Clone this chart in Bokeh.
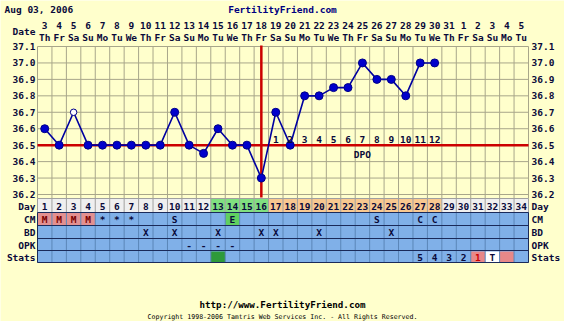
from bokeh.plotting import figure
from bokeh.models import Range1d
from bokeh.core.properties import value
from bokeh.embed import file_html
from bokeh.resources import INLINE

# ---------------- data ----------------
chart_date = "Aug 03, 2006"
site_title = "FertilityFriend.com"
footer_url = "http://www.FertilityFriend.com"
footer_copy = "Copyright 1998-2006 Tamtris Web Services Inc. - All Rights Reserved."

days = list(range(1, 35))
date_nums = [3, 4, 5, 6, 7, 8, 9, 10, 11, 12, 13, 14, 15, 16, 17, 18, 19, 20, 21, 22,
             23, 24, 25, 26, 27, 28, 29, 30, 31, 1, 2, 3, 4, 5]
weekdays = ["Th", "Fr", "Sa", "Su", "Mo", "Tu", "We", "Th", "Fr", "Sa", "Su", "Mo",
            "Tu", "We", "Th", "Fr", "Sa", "Su", "Mo", "Tu", "We", "Th", "Fr", "Sa",
            "Su", "Mo", "Tu", "We", "Th", "Fr", "Sa", "Su", "Mo", "Tu"]

temp_days = list(range(1, 29))
temps = [36.6, 36.5, 36.7, 36.5, 36.5, 36.5, 36.5, 36.5, 36.5, 36.7, 36.5, 36.45,
         36.6, 36.5, 36.5, 36.3, 36.7, 36.5, 36.8, 36.8, 36.85, 36.85, 37.0, 36.9,
         36.9, 36.8, 37.0, 37.0]
open_days = [3]
coverline = 36.5
ovulation_day = 16
dpo_days = list(range(17, 29))
dpo_labels = [str(i) for i in range(1, 13)]
dpo_label_day = 23
temp_ticks = [36.2, 36.3, 36.4, 36.5, 36.6, 36.7, 36.8, 36.9, 37.0, 37.1]

fertile_days = [13, 14, 15, 16]
luteal_days = list(range(17, 29))

cm_days = [1, 2, 3, 4, 5, 6, 7, 10, 14, 24, 27, 28]
cm_marks = ["M", "M", "M", "M", "*", "*", "*", "S", "E", "S", "C", "C"]
bd_days = [8, 10, 13, 16, 17, 20, 25]
opk_days = [11, 12, 13, 14]
stats_days = [27, 28, 29, 30, 31, 32]
stats_marks = ["5", "4", "3", "2", "1", "T"]
stats_fill_days = [13, 31, 32, 33]
stats_fill_kind = ["green", "pink", "white", "pink"]

row_names = ["Day", "CM", "BD", "OPK", "Stats"]

# ---------------- layout / style ----------------
W, H = 564, 321
X0, X1 = 37.0, 528.0
COLW = (X1 - X0) / len(days)
PT, PB = 46.0, 194.0            # pixel rows of 37.1 and 36.2
TMAX, TMIN = temp_ticks[-1], temp_ticks[0]
PPD = (PB - PT) / (TMAX - TMIN)
ROW_EDGES = [198, 212, 225, 238, 250, 262]

BG = "#FFFFCC"
GRID = "#A8A68A"
RED = "#CC0000"
BLUE = "#0000CC"
NAVY = "#0A0A3A"
FONT = value("DejaVu Sans Mono")

p = figure(width=W, height=H, output_backend="svg", toolbar_location=None,
           x_axis_type=None, y_axis_type=None, min_border=0,
           x_range=Range1d(0.5 - X0 / COLW, 0.5 + (W - X0) / COLW),
           y_range=Range1d(TMIN - (H - PB) / PPD, TMAX + PT / PPD))
p.outline_line_color = None
p.background_fill_color = BG
p.border_fill_color = BG
p.extra_y_ranges = {"px": Range1d(H, 0)}
p.extra_x_ranges = {"pxx": Range1d(0, W)}

xl = days[0] - 0.5
xr = days[-1] + 0.5
edges = [d - 0.5 for d in days] + [xr]

# ---------- temperature grid ----------
p.segment(x0=edges, x1=edges, y0=[PT] * len(edges), y1=[ROW_EDGES[0]] * len(edges),
          y_range_name="px", line_color=GRID, line_width=1)
p.segment(x0=[xl] * len(temp_ticks), x1=[xr] * len(temp_ticks), y0=temp_ticks,
          y1=temp_ticks, line_color=GRID, line_width=1)

# coverline & ovulation line
p.segment(x0=[xl], x1=[xr], y0=[coverline], y1=[coverline], line_color=RED, line_width=2.5)
p.segment(x0=[ovulation_day], x1=[ovulation_day], y0=[PT - 1], y1=[PB + 3],
          y_range_name="px", line_color=RED, line_width=2.5)

# temperature line & points
p.line(temp_days, temps, line_color="#0000A0", line_width=1.6)
cx = [d for d in temp_days if d not in open_days]
cy = [t for d, t in zip(temp_days, temps) if d not in open_days]
ox = [d for d in temp_days if d in open_days]
oy = [t for d, t in zip(temp_days, temps) if d in open_days]
p.scatter(cx, cy, size=8, fill_color=BLUE, line_color="#000088", line_width=1)
p.scatter(ox, oy, size=6.5, fill_color="white", line_color="#000088", line_width=1)

# DPO labels
p.text(x=dpo_days, y=[coverline] * len(dpo_days), text=dpo_labels, y_offset=-2,
       text_align="center", text_baseline="bottom", text_font=FONT,
       text_font_style="bold", text_font_size="9.5px", text_color=NAVY)
p.text(x=[dpo_label_day], y=[coverline], text=["DPO"], y_offset=4,
       text_align="center", text_baseline="top", text_font=FONT,
       text_font_style="bold", text_font_size="9.5px", text_color=NAVY)

# temperature tick labels (left & right)
tick_txt = [f"{t:.1f}" for t in temp_ticks]
p.text(x=[X0 - 2] * len(temp_ticks), y=temp_ticks, text=tick_txt, x_range_name="pxx",
       text_align="right", text_baseline="middle", text_font=FONT,
       text_font_style="bold", text_font_size="9.5px", text_color=NAVY)
p.text(x=[X1 + 3] * len(temp_ticks), y=temp_ticks, text=tick_txt, x_range_name="pxx",
       text_align="left", text_baseline="middle", text_font=FONT,
       text_font_style="bold", text_font_size="9.5px", text_color=NAVY)

# ---------- header ----------
p.text(x=[4], y=[9], text=[chart_date], x_range_name="pxx", y_range_name="px",
       text_align="left", text_baseline="middle", text_font=FONT,
       text_font_style="bold", text_font_size="9.5px", text_color=NAVY)
p.text(x=[282], y=[9], text=[site_title], x_range_name="pxx",
       y_range_name="px", text_align="center", text_baseline="middle", text_font=FONT,
       text_font_style="bold", text_font_size="9.5px", text_color="#000080")
p.text(x=[X0 - 2], y=[31], text=["Date"], x_range_name="pxx", y_range_name="px",
       text_align="right", text_baseline="middle", text_font=FONT,
       text_font_style="bold", text_font_size="9.5px", text_color=NAVY)
p.text(x=days, y=[25] * len(days), text=[str(d) for d in date_nums], y_range_name="px",
       text_align="center", text_baseline="middle", text_font=FONT,
       text_font_style="bold", text_font_size="9.5px", text_color=NAVY)
p.text(x=days, y=[37] * len(days), text=weekdays, y_range_name="px",
       text_align="center", text_baseline="middle", text_font=FONT,
       text_font_style="bold", text_font_size="9.5px", text_color=NAVY)

# ---------- table ----------
day_fill = []
for d in days:
    if d in fertile_days:
        day_fill.append("#80E080")
    elif d in luteal_days:
        day_fill.append("#F8C890")
    else:
        day_fill.append("#EFEFEF")
n = len(days)
lefts = [d - 0.5 for d in days]
rights = [d + 0.5 for d in days]
p.quad(left=lefts, right=rights, top=[ROW_EDGES[0]] * n, bottom=[ROW_EDGES[1]] * n,
       y_range_name="px", fill_color=day_fill, line_color=None)
p.quad(left=[xl], right=[xr], top=[ROW_EDGES[1]], bottom=[ROW_EDGES[-1]],
       y_range_name="px", fill_color="#80B0E8", line_color=None)

# CM special cells
cm_fill_x = [d for d, m in zip(cm_days, cm_marks) if m in ("M", "E")]
cm_fill_c = ["#E39090" if m == "M" else "#60D060" for m in cm_marks if m in ("M", "E")]
p.quad(left=[d - 0.5 for d in cm_fill_x], right=[d + 0.5 for d in cm_fill_x],
       top=[ROW_EDGES[1]] * len(cm_fill_x), bottom=[ROW_EDGES[2]] * len(cm_fill_x),
       y_range_name="px", fill_color=cm_fill_c, line_color=None)
# stats cells
kind_color = {"green": "#2E9A3A", "pink": "#E88888", "white": "#FFFFFF"}
p.quad(left=[d - 0.5 for d in stats_fill_days], right=[d + 0.5 for d in stats_fill_days],
       top=[ROW_EDGES[4] + 1] * len(stats_fill_days), bottom=[ROW_EDGES[5]] * len(stats_fill_days),
       y_range_name="px", fill_color=[kind_color[k] for k in stats_fill_kind], line_color=None)

# table grid lines
p.segment(x0=edges, x1=edges, y0=[ROW_EDGES[0]] * len(edges), y1=[ROW_EDGES[1]] * len(edges),
          y_range_name="px", line_color="#A0A0A0", line_width=1)
p.segment(x0=edges, x1=edges, y0=[ROW_EDGES[1]] * len(edges), y1=[ROW_EDGES[-1]] * len(edges),
          y_range_name="px", line_color="#5A86B8", line_width=1)
p.segment(x0=[xl], x1=[xr], y0=[ROW_EDGES[0]], y1=[ROW_EDGES[0]], y_range_name="px",
          line_color="#A0A0A0", line_width=1)
p.segment(x0=[xl] * 5, x1=[xr] * 5, y0=ROW_EDGES[1:], y1=ROW_EDGES[1:], y_range_name="px",
          line_color="#1A2A5A", line_width=1)
p.segment(x0=[xl, xr], x1=[xl, xr], y0=[ROW_EDGES[1]] * 2, y1=[ROW_EDGES[-1]] * 2,
          y_range_name="px", line_color="#1A2A5A", line_width=1)

def rowc(i):
    return (ROW_EDGES[i] + ROW_EDGES[i + 1]) / 2 + 0.5

txt_kw = dict(y_range_name="px", text_align="center", text_baseline="middle",
              text_font=FONT, text_font_style="bold", text_font_size="9.5px")
p.text(x=days, y=[rowc(0)] * n, text=[str(d) for d in days], text_color=NAVY, **txt_kw)
p.text(x=cm_days, y=[rowc(1)] * len(cm_days), text=cm_marks,
       text_color=["#7A0000" if m == "M" else NAVY for m in cm_marks], **txt_kw)
p.text(x=bd_days, y=[rowc(2)] * len(bd_days), text=["X"] * len(bd_days),
       text_color=NAVY, **txt_kw)
p.text(x=opk_days, y=[rowc(3)] * len(opk_days), text=["-"] * len(opk_days),
       text_color=NAVY, **txt_kw)
p.text(x=stats_days, y=[rowc(4)] * len(stats_days), text=stats_marks,
       text_color=["#CC0000" if m == "1" else NAVY for m in stats_marks], **txt_kw)

# row labels left/right
rc = [rowc(i) for i in range(5)]
p.text(x=[X0 - 2] * 5, y=rc, text=row_names, x_range_name="pxx", y_range_name="px",
       text_align="right", text_baseline="middle", text_font=FONT,
       text_font_style="bold", text_font_size="9.5px", text_color=NAVY)
p.text(x=[X1 + 3] * 5, y=rc, text=row_names, x_range_name="pxx", y_range_name="px",
       text_align="left", text_baseline="middle", text_font=FONT,
       text_font_style="bold", text_font_size="9.5px", text_color=NAVY)

# ---------- footer ----------
p.text(x=[282], y=[304], text=[footer_url], x_range_name="pxx", y_range_name="px",
       text_align="center", text_baseline="middle", text_font=FONT,
       text_font_style="bold", text_font_size="9.2px", text_color="#000000")
p.text(x=[282], y=[316], text=[footer_copy], x_range_name="pxx", y_range_name="px",
       text_align="center", text_baseline="middle", text_font=FONT,
       text_font_size="6.6px", text_color="#000000")

open("out.html", "w").write(file_html(p, INLINE))
